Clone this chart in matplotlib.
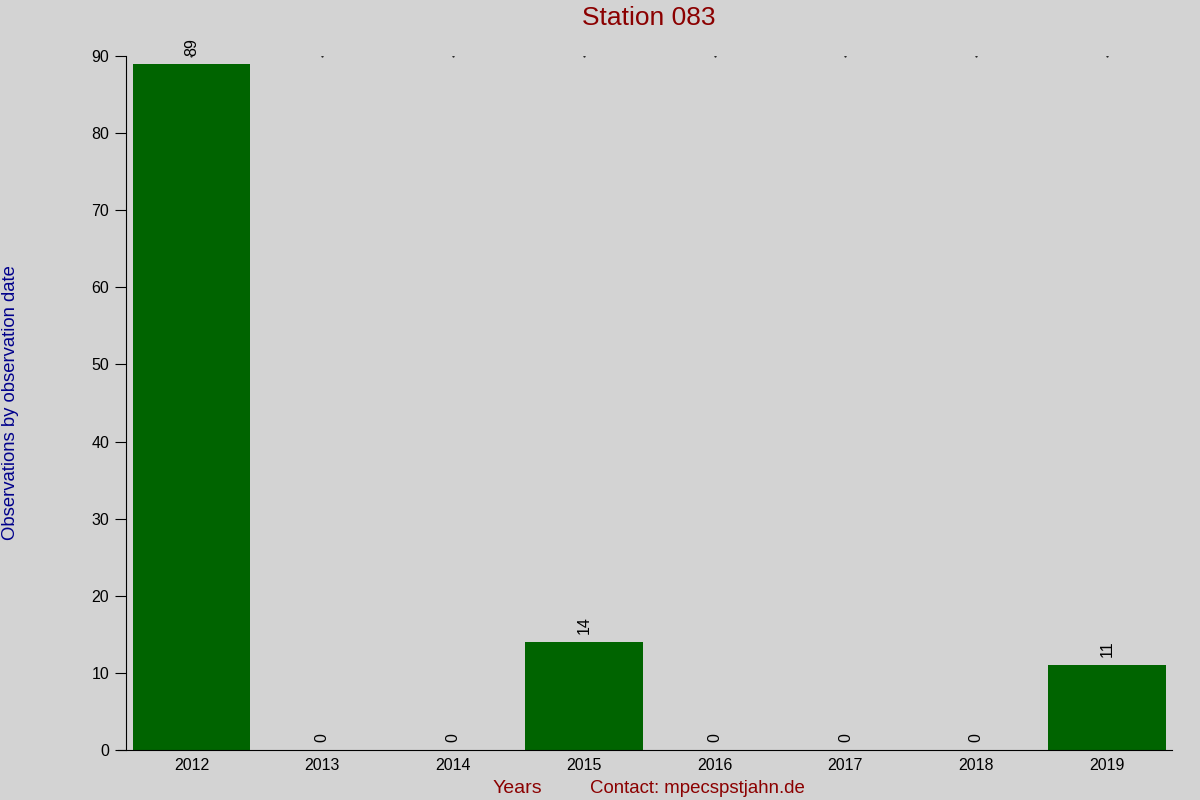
import matplotlib
matplotlib.use('Agg')
import matplotlib.pyplot as plt

plt.rcParams['font.family'] = ['Liberation Sans', 'DejaVu Sans']

anos = ['2012', '2013', '2014', '2015', '2016', '2017', '2018', '2019']
observacoes = [89, 0, 0, 14, 0, 0, 0, 11]

fundo = '#d3d3d3'
fig = plt.figure(figsize=(12, 8), dpi=100, facecolor=fundo)
ax = fig.add_axes([0.105, 0.0625, 0.872, 0.8675], facecolor=fundo)

x = range(len(anos))
barras = ax.bar(x, observacoes, width=0.9, color='#006400')
for b, v in zip(barras, observacoes):
    ax.text(b.get_x() + b.get_width() / 2, v + 1, str(v), rotation=90,
            ha='center', va='bottom', fontsize=11.5)

ax.set_xlim(-0.5, len(anos) - 0.5)
ax.set_ylim(0, 90)

# pontinhos no topo de cada ano
topo = ax.get_ylim()[1]
ax.plot(list(x), [topo] * len(anos), 'o', markersize=0.5, color='black')

ax.set_xticks(list(x))
ax.set_xticklabels(anos, fontsize=11.5)
ax.set_yticks(range(0, 91, 10))
ax.tick_params(axis='y', labelsize=11.5, length=8, direction='out', pad=4)
ax.tick_params(axis='x', length=0, pad=6)
for s in ['top', 'right']:
    ax.spines[s].set_visible(False)
ax.spines['bottom'].set_bounds(-0.56, len(anos) - 0.5)

ax.set_title('Station 083', color='#8b0000', fontsize=19, pad=22)
fig.text(0.431, 0.009, 'Years', color='#8b0000', fontsize=14, ha='center')
fig.text(0.581, 0.009, 'Contact: mpecspstjahn.de', color='#8b0000', fontsize=13.4, ha='center')
fig.text(0.009, 0.497, 'Observations by observation date', color='#00008b',
         fontsize=13.3, rotation=90, ha='center', va='center')

plt.savefig('out.png', dpi=100, facecolor=fundo)
